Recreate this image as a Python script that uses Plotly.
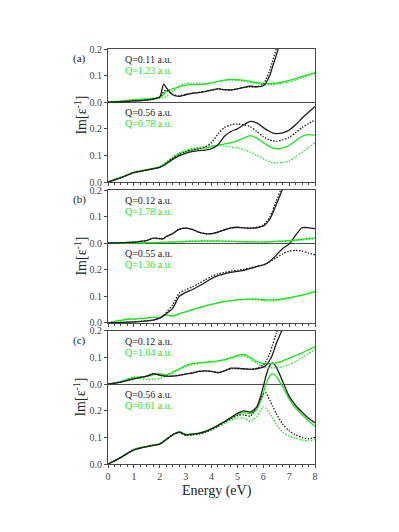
import plotly.graph_objects as go

BLACK = "#1e1e1e"
GREEN = "#1ee61e"
FRAME = "#4a4a4a"
TICK_COLOR = "#444444"
FONT = "Liberation Serif, Times New Roman, serif"
DOT = "1.5px,1.5px"

ENERGY = [0.0, 0.25, 0.5, 0.75, 1.0, 1.25, 1.5, 1.75,
          2.0, 2.15, 2.25, 2.5, 2.75, 3.0, 3.25, 3.5, 3.75,
          4.0, 4.25, 4.5, 4.75, 5.0, 5.25, 5.5, 5.75,
          6.0, 6.1, 6.25, 6.35, 6.5, 6.75, 7.0, 7.25, 7.5, 7.75, 8.0]
X_TICKS = [0, 1, 2, 3, 4, 5, 6, 7, 8]
Y_TICKS = [0.0, 0.1, 0.2]
Y_TICK_TEXT = ["0.0", "0.1", "0.2"]

PANEL_TAGS = ["(a)", "(b)", "(c)"]
TOP_Q_BLACK = ["Q=0.11 a.u.", "Q=0.12 a.u.", "Q=0.12 a.u."]
TOP_Q_GREEN = ["Q=1.23 a.u.", "Q=1.78 a.u.", "Q=1.04 a.u."]
BOT_Q_BLACK = ["Q=0.56 a.u.", "Q=0.55 a.u.", "Q=0.56 a.u."]
BOT_Q_GREEN = ["Q=0.78 a.u.", "Q=1.36 a.u.", "Q=0.61 a.u."]

# (a) upper panel
A_TOP_K = [0.000, 0.001, 0.002, 0.003, 0.005, 0.006, 0.008, 0.012,
           0.020, 0.068, 0.055, 0.028, 0.022, 0.028, 0.033, 0.036, 0.040,
           0.045, 0.050, 0.047, 0.046, 0.050, 0.056, 0.060, 0.058,
           0.062, 0.072, 0.100, 0.130, 0.175, 0.260, 0.350, 0.450, 0.550, 0.650, 0.750]
A_TOP_KD = [0.000, 0.001, 0.002, 0.003, 0.005, 0.006, 0.008, 0.012,
            0.018, 0.040, 0.045, 0.030, 0.024, 0.030, 0.034, 0.037, 0.041,
            0.046, 0.050, 0.047, 0.046, 0.050, 0.055, 0.058, 0.058,
            0.068, 0.085, 0.120, 0.150, 0.200, 0.290, 0.380, 0.480, 0.580, 0.680, 0.780]
A_TOP_G = [0.000, 0.002, 0.004, 0.007, 0.010, 0.011, 0.012, 0.015,
           0.018, 0.030, 0.040, 0.050, 0.058, 0.064, 0.066, 0.066, 0.068,
           0.073, 0.078, 0.083, 0.086, 0.085, 0.082, 0.078, 0.074,
           0.071, 0.070, 0.070, 0.071, 0.072, 0.076, 0.082, 0.089, 0.097, 0.104, 0.111]
A_TOP_GD = [0.000, 0.002, 0.004, 0.006, 0.008, 0.010, 0.011, 0.013,
            0.015, 0.017, 0.020, 0.040, 0.062, 0.070, 0.072, 0.071, 0.071,
            0.073, 0.077, 0.081, 0.083, 0.082, 0.079, 0.074, 0.070,
            0.066, 0.065, 0.066, 0.066, 0.068, 0.071, 0.076, 0.083, 0.092, 0.100, 0.108]
# (a) lower panel
A_BOT_K = [0.000, 0.008, 0.016, 0.026, 0.035, 0.040, 0.045, 0.050,
           0.055, 0.062, 0.068, 0.085, 0.098, 0.108, 0.114, 0.118, 0.120,
           0.125, 0.140, 0.172, 0.190, 0.200, 0.215, 0.228, 0.222,
           0.205, 0.198, 0.190, 0.185, 0.182, 0.185, 0.195, 0.215, 0.240, 0.262, 0.284]
A_BOT_KD = [0.000, 0.008, 0.016, 0.026, 0.035, 0.040, 0.045, 0.050,
            0.056, 0.063, 0.070, 0.088, 0.103, 0.113, 0.120, 0.125, 0.132,
            0.148, 0.180, 0.205, 0.215, 0.218, 0.215, 0.208, 0.190,
            0.170, 0.165, 0.158, 0.155, 0.153, 0.158, 0.168, 0.185, 0.205, 0.220, 0.233]
A_BOT_G = [0.000, 0.010, 0.018, 0.027, 0.036, 0.042, 0.046, 0.050,
           0.056, 0.065, 0.072, 0.090, 0.105, 0.115, 0.121, 0.125, 0.128,
           0.132, 0.138, 0.143, 0.148, 0.155, 0.165, 0.174, 0.165,
           0.148, 0.142, 0.133, 0.128, 0.125, 0.128, 0.138, 0.155, 0.172, 0.178, 0.176]
A_BOT_GD = [0.000, 0.010, 0.018, 0.028, 0.037, 0.043, 0.047, 0.052,
            0.058, 0.068, 0.076, 0.095, 0.110, 0.120, 0.126, 0.130, 0.133,
            0.136, 0.137, 0.135, 0.132, 0.128, 0.122, 0.112, 0.100,
            0.087, 0.083, 0.076, 0.073, 0.072, 0.074, 0.080, 0.095, 0.113, 0.130, 0.147]

# (b) upper panel
B_TOP_K = [0.000, 0.001, 0.002, 0.003, 0.004, 0.007, 0.010, 0.019,
           0.017, 0.017, 0.025, 0.036, 0.052, 0.057, 0.052, 0.042, 0.036,
           0.036, 0.042, 0.050, 0.058, 0.060, 0.058, 0.057, 0.058,
           0.065, 0.072, 0.090, 0.110, 0.145, 0.205, 0.280, 0.360, 0.440, 0.520, 0.600]
B_TOP_KD = [0.000, 0.001, 0.002, 0.003, 0.004, 0.007, 0.010, 0.018,
            0.017, 0.017, 0.025, 0.037, 0.053, 0.057, 0.052, 0.042, 0.036,
            0.036, 0.042, 0.050, 0.057, 0.059, 0.058, 0.057, 0.060,
            0.068, 0.078, 0.098, 0.120, 0.158, 0.220, 0.300, 0.380, 0.460, 0.540, 0.620]
B_TOP_G = [0.000, 0.000, 0.000, 0.001, 0.001, 0.001, 0.002, 0.002,
           0.003, 0.003, 0.004, 0.004, 0.005, 0.006, 0.007, 0.007, 0.008,
           0.008, 0.008, 0.007, 0.007, 0.006, 0.006, 0.005, 0.005,
           0.005, 0.005, 0.006, 0.006, 0.007, 0.008, 0.010, 0.012, 0.015, 0.018, 0.020]
B_TOP_GD = [0.000, 0.000, 0.000, 0.001, 0.001, 0.001, 0.002, 0.002,
            0.003, 0.003, 0.004, 0.005, 0.006, 0.008, 0.009, 0.009, 0.010,
            0.010, 0.009, 0.008, 0.007, 0.006, 0.005, 0.005, 0.004,
            0.004, 0.004, 0.005, 0.005, 0.006, 0.007, 0.008, 0.010, 0.012, 0.014, 0.016]
# (b) lower panel
B_BOT_K = [0.000, 0.001, 0.002, 0.003, 0.004, 0.006, 0.008, 0.011,
           0.018, 0.028, 0.035, 0.055, 0.100, 0.115, 0.125, 0.138, 0.152,
           0.167, 0.178, 0.185, 0.190, 0.194, 0.198, 0.205, 0.212,
           0.218, 0.222, 0.232, 0.240, 0.255, 0.280, 0.297, 0.330, 0.358, 0.358, 0.355]
B_BOT_KD = [0.000, 0.001, 0.002, 0.003, 0.004, 0.006, 0.008, 0.011,
            0.019, 0.030, 0.040, 0.068, 0.112, 0.125, 0.135, 0.148, 0.162,
            0.175, 0.185, 0.190, 0.195, 0.198, 0.202, 0.207, 0.213,
            0.218, 0.222, 0.230, 0.236, 0.245, 0.260, 0.270, 0.273, 0.270, 0.263, 0.256]
B_BOT_G = [0.000, 0.006, 0.010, 0.014, 0.015, 0.017, 0.018, 0.022,
           0.019, 0.028, 0.030, 0.026, 0.035, 0.042, 0.050, 0.057, 0.064,
           0.070, 0.076, 0.080, 0.084, 0.087, 0.089, 0.090, 0.090,
           0.088, 0.087, 0.087, 0.087, 0.088, 0.091, 0.095, 0.100, 0.105, 0.112, 0.118]
B_BOT_GD = [0.000, 0.006, 0.010, 0.014, 0.015, 0.017, 0.018, 0.021,
            0.019, 0.027, 0.029, 0.026, 0.034, 0.042, 0.050, 0.057, 0.064,
            0.070, 0.076, 0.080, 0.084, 0.087, 0.089, 0.089, 0.087,
            0.084, 0.083, 0.083, 0.083, 0.084, 0.088, 0.093, 0.099, 0.104, 0.110, 0.116]

# (c) upper panel
C_TOP_K = [0.000, 0.004, 0.008, 0.014, 0.020, 0.025, 0.030, 0.040,
           0.034, 0.031, 0.030, 0.030, 0.033, 0.038, 0.042, 0.048, 0.050,
           0.048, 0.043, 0.050, 0.060, 0.060, 0.058, 0.056, 0.058,
           0.064, 0.070, 0.090, 0.110, 0.152, 0.210, 0.280, 0.360, 0.440, 0.520, 0.600]
C_TOP_KD = [0.000, 0.004, 0.008, 0.014, 0.020, 0.025, 0.030, 0.038,
            0.034, 0.031, 0.030, 0.031, 0.034, 0.039, 0.043, 0.048, 0.050,
            0.048, 0.044, 0.050, 0.058, 0.058, 0.057, 0.056, 0.060,
            0.072, 0.085, 0.115, 0.145, 0.190, 0.270, 0.340, 0.420, 0.500, 0.580, 0.660]
C_TOP_G = [0.000, 0.005, 0.010, 0.018, 0.025, 0.028, 0.030, 0.035,
           0.040, 0.036, 0.035, 0.045, 0.058, 0.070, 0.077, 0.080, 0.083,
           0.085, 0.088, 0.092, 0.100, 0.108, 0.112, 0.100, 0.085,
           0.078, 0.077, 0.077, 0.078, 0.080, 0.088, 0.098, 0.108, 0.118, 0.130, 0.140]
C_TOP_GD = [0.000, 0.005, 0.010, 0.020, 0.027, 0.022, 0.018, 0.018,
            0.022, 0.028, 0.032, 0.042, 0.055, 0.065, 0.073, 0.078, 0.081,
            0.083, 0.086, 0.090, 0.097, 0.104, 0.106, 0.095, 0.078,
            0.066, 0.063, 0.061, 0.061, 0.062, 0.066, 0.074, 0.085, 0.100, 0.115, 0.130]
# (c) lower panel
C_BOT_K = [0.000, 0.012, 0.025, 0.040, 0.053, 0.060, 0.065, 0.070,
           0.075, 0.085, 0.092, 0.110, 0.120, 0.110, 0.112, 0.115, 0.122,
           0.132, 0.145, 0.160, 0.175, 0.190, 0.200, 0.195, 0.215,
           0.290, 0.330, 0.370, 0.380, 0.365, 0.310, 0.255, 0.220, 0.195, 0.172, 0.155]
C_BOT_KD = [0.000, 0.012, 0.025, 0.040, 0.053, 0.060, 0.065, 0.070,
            0.075, 0.085, 0.092, 0.110, 0.118, 0.108, 0.110, 0.113, 0.120,
            0.130, 0.142, 0.157, 0.170, 0.182, 0.185, 0.180, 0.215,
            0.262, 0.268, 0.240, 0.220, 0.190, 0.150, 0.125, 0.110, 0.100, 0.095, 0.100]
C_BOT_G = [0.000, 0.012, 0.025, 0.040, 0.055, 0.062, 0.067, 0.072,
           0.076, 0.086, 0.093, 0.110, 0.122, 0.112, 0.113, 0.116, 0.123,
           0.133, 0.145, 0.158, 0.172, 0.185, 0.193, 0.190, 0.205,
           0.265, 0.300, 0.330, 0.340, 0.330, 0.290, 0.245, 0.210, 0.185, 0.162, 0.142]
C_BOT_GD = [0.000, 0.012, 0.025, 0.040, 0.053, 0.060, 0.065, 0.070,
            0.075, 0.085, 0.090, 0.108, 0.117, 0.107, 0.108, 0.112, 0.118,
            0.127, 0.140, 0.153, 0.165, 0.172, 0.173, 0.160, 0.180,
            0.215, 0.210, 0.190, 0.175, 0.150, 0.120, 0.105, 0.097, 0.090, 0.087, 0.092]

TOP_CURVES = [
    (A_TOP_K, A_TOP_KD, A_TOP_G, A_TOP_GD),
    (B_TOP_K, B_TOP_KD, B_TOP_G, B_TOP_GD),
    (C_TOP_K, C_TOP_KD, C_TOP_G, C_TOP_GD),
]
BOT_CURVES = [
    (A_BOT_K, A_BOT_KD, A_BOT_G, A_BOT_GD),
    (B_BOT_K, B_BOT_KD, B_BOT_G, B_BOT_GD),
    (C_BOT_K, C_BOT_KD, C_BOT_G, C_BOT_GD),
]

# group domains (paper fractions, top group first)
DOMAINS = [[0.6795, 1.0], [0.3398, 0.6602], [0.0, 0.3205]]


def _suffix(k: int) -> str:
    return "" if k == 1 else str(k)


def _add_curves(fig, curves, xref, yref):
    solid_k, dot_k, solid_g, dot_g = curves
    for values, color, dash in (
        (dot_g, GREEN, DOT),
        (solid_g, GREEN, "solid"),
        (dot_k, BLACK, DOT),
        (solid_k, BLACK, "solid"),
    ):
        fig.add_trace(
            go.Scatter(
                x=ENERGY,
                y=values,
                mode="lines",
                xaxis=xref,
                yaxis=yref,
                showlegend=False,
                line=dict(color=color, width=1.3, dash=dash, shape="spline", smoothing=0.7),
            )
        )


fig = go.Figure()
layout = {}
annotations = []
tick_font = dict(family=FONT, size=10, color=TICK_COLOR)

for g in range(3):
    n = g + 1
    low, high = 2 * g + 1, 2 * g + 2
    xref = "x" + _suffix(n)
    ylow, yhigh = "y" + _suffix(low), "y" + _suffix(high)

    _add_curves(fig, BOT_CURVES[g], xref, ylow)
    _add_curves(fig, TOP_CURVES[g], xref, yhigh)

    layout["xaxis" + _suffix(n)] = dict(
        domain=[0, 1], anchor=ylow, range=[0, 8],
        tickvals=X_TICKS, showticklabels=(n == 3), tickfont=tick_font,
        ticks="outside", ticklen=3, tickcolor=FRAME,
        minor=dict(dtick=0.25, ticks="outside", ticklen=2, tickcolor=FRAME),
        showline=True, mirror=True, linecolor=FRAME, linewidth=1,
        showgrid=False, zeroline=False,
    )
    layout["yaxis" + _suffix(low)] = dict(
        domain=DOMAINS[g], anchor=xref, range=[0, 0.5],
        tickvals=Y_TICKS, ticktext=Y_TICK_TEXT, tickfont=tick_font,
        ticks="outside", ticklen=3, tickcolor=FRAME,
        showline=True, mirror=True, linecolor=FRAME, linewidth=1,
        showgrid=False, zeroline=False,
    )
    layout["yaxis" + _suffix(high)] = dict(
        overlaying=ylow, anchor=xref, side="left", range=[-0.3, 0.2],
        tickvals=Y_TICKS, ticktext=Y_TICK_TEXT, tickfont=tick_font,
        ticks="outside", ticklen=3, tickcolor=FRAME,
        showline=False, showgrid=False,
        zeroline=True, zerolinecolor=FRAME, zerolinewidth=1,
    )

    annotations.append(dict(
        text=PANEL_TAGS[g], xref="paper", yref=yhigh, x=-0.14, y=0.165,
        xanchor="center", yanchor="middle", showarrow=False,
        font=dict(family=FONT, size=11, color="#222222"),
    ))
    for text, color, yref, yv in (
        (TOP_Q_BLACK[g], BLACK, yhigh, 0.162),
        (TOP_Q_GREEN[g], GREEN, yhigh, 0.119),
        (BOT_Q_BLACK[g], BLACK, ylow, 0.262),
        (BOT_Q_GREEN[g], GREEN, ylow, 0.219),
    ):
        annotations.append(dict(
            text=text, xref=xref, yref=yref, x=0.58, y=yv,
            xanchor="left", yanchor="middle", showarrow=False,
            font=dict(family=FONT, size=10, color=color),
        ))
    annotations.append(dict(
        text="Im[ε<sup>-1</sup>]", xref="paper", yref="paper",
        x=-0.135, y=(DOMAINS[g][0] + DOMAINS[g][1]) / 2,
        xanchor="center", yanchor="middle", textangle=-90, showarrow=False,
        font=dict(family=FONT, size=14, color="#222222"),
    ))

annotations.append(dict(
    text="Energy (eV)", xref="paper", yref="paper", x=0.525, y=-0.064,
    xanchor="center", yanchor="middle", showarrow=False,
    font=dict(family=FONT, size=14, color="#222222"),
))

# the page body adds an 8 px margin, so the figure is 16 px smaller than the window
fig.update_layout(
    width=383,
    height=516,
    margin=dict(l=100, r=76, t=41, b=60),
    paper_bgcolor="white",
    plot_bgcolor="white",
    font=dict(family=FONT, size=10, color="#222222"),
    annotations=annotations,
    **layout,
)

fig.write_html("out.html")
